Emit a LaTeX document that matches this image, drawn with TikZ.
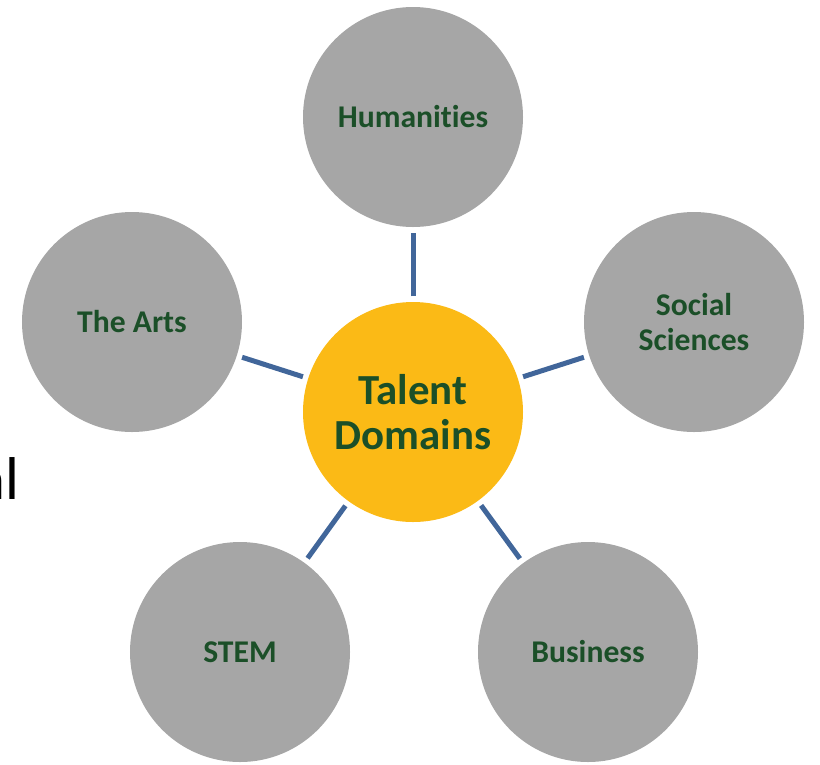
\documentclass[tikz,border=0pt]{standalone}
\usepackage{fontspec}
\setmainfont{Carlito}[Ligatures=NoCommon]
\definecolor{domGold}{HTML}{FBBA16}
\definecolor{domGray}{HTML}{A6A6A6}
\definecolor{domGreen}{HTML}{1B4F28}
\definecolor{domBlue}{HTML}{41669A}
\begin{document}
\begin{tikzpicture}[x=0.25mm,y=-0.25mm,
    domHub/.style={circle,fill=domGold,minimum size=55mm,inner sep=0pt,outer sep=1.4mm,
        text=domGreen,font=\fontsize{30.5}{32.5}\selectfont\bfseries,align=center},
    domLeaf/.style={circle,fill=domGray,minimum size=55mm,inner sep=0pt,outer sep=1.4mm,
        text=domGreen,font=\fontsize{22.5}{24.5}\selectfont\bfseries,align=center},
    domLink/.style={domBlue,line width=1.25mm},
]
\clip (0,0) rectangle (820,764);
% cut-off slide text
\node[anchor=base east,inner sep=0pt,font=\fontsize{43}{43}\selectfont] (cut) at (20,499) {al};
% hub
\node[domHub] (talent) at (413,412) {Talent\\Domains};
% domains
\node[domLeaf] (hum) at (413,117) {Humanities};
\node[domLeaf] (soc) at (694,322) {Social\\Sciences};
\node[domLeaf] (bus) at (588,652) {Business};
\node[domLeaf] (stem) at (240,652) {STEM};
\node[domLeaf] (arts) at (132,322) {The Arts};
% links
\foreach \d in {hum,soc,bus,stem,arts}
    \draw[domLink] (talent) -- (\d);
\end{tikzpicture}
\end{document}
